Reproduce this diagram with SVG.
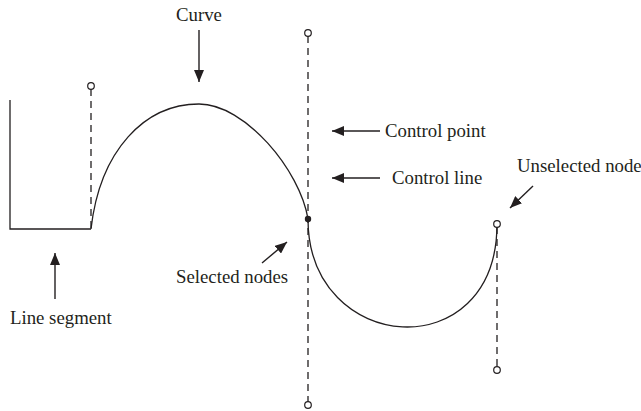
<svg xmlns="http://www.w3.org/2000/svg" width="641" height="411" viewBox="0 0 641 411">
<style>
.ln{fill:none;stroke:#231f20;stroke-width:1.3}
.ds{fill:none;stroke:#231f20;stroke-width:1.3;stroke-dasharray:7 5}
.ar{fill:none;stroke:#231f20;stroke-width:1.4;marker-end:url(#ah)}
.oc{fill:#fff;stroke:#231f20;stroke-width:1.2}
.t{font-family:"Liberation Serif","Times New Roman",serif;font-size:18.8px;fill:#231f20}
</style>
<defs>
<marker id="ah" viewBox="0 0 12 10" refX="12" refY="5" markerWidth="12" markerHeight="10" markerUnits="userSpaceOnUse" orient="auto">
<path d="M0,0 L12,5 L0,10 z" fill="#231f20"/>
</marker>
</defs>
<g id="path-shape">
<path class="ln" d="M10,100 V229 H91"/>
<path class="ln" d="M91,229 C100,150 145,104 199,104 C245,104 300,170 308,219"/>
<path class="ln" d="M308,219 C308,355 497,369 497,224"/>
</g>
<g id="control-lines">
<path class="ds" d="M91,89 V229"/>
<path class="ds" d="M308,36 V402"/>
<path class="ds" d="M497,227 V367"/>
</g>
<g id="nodes">
<circle class="oc" cx="91" cy="86" r="3.3"/>
<circle class="oc" cx="308" cy="33" r="3.3"/>
<circle class="oc" cx="308" cy="405" r="3.3"/>
<circle class="oc" cx="497" cy="224" r="3.3"/>
<circle class="oc" cx="497" cy="370" r="3.3"/>
<circle cx="308" cy="219" r="3.2" fill="#231f20"/>
</g>
<g id="connectors">
<line class="ar" x1="199" y1="30" x2="199" y2="82"/>
<line class="ar" x1="380" y1="131" x2="332" y2="131"/>
<line class="ar" x1="380" y1="178" x2="332" y2="178"/>
<line class="ar" x1="533" y1="186" x2="510" y2="208"/>
<line class="ar" x1="262" y1="263" x2="287" y2="242"/>
<line class="ar" x1="55" y1="299" x2="55" y2="253"/>
</g>
<g id="labels">
<text class="t" x="176" y="21">Curve</text>
<text class="t" x="385" y="137">Control point</text>
<text class="t" x="392" y="184">Control line</text>
<text class="t" x="517" y="172">Unselected node</text>
<text class="t" x="176" y="283">Selected nodes</text>
<text class="t" x="10" y="324">Line segment</text>
</g>
</svg>
